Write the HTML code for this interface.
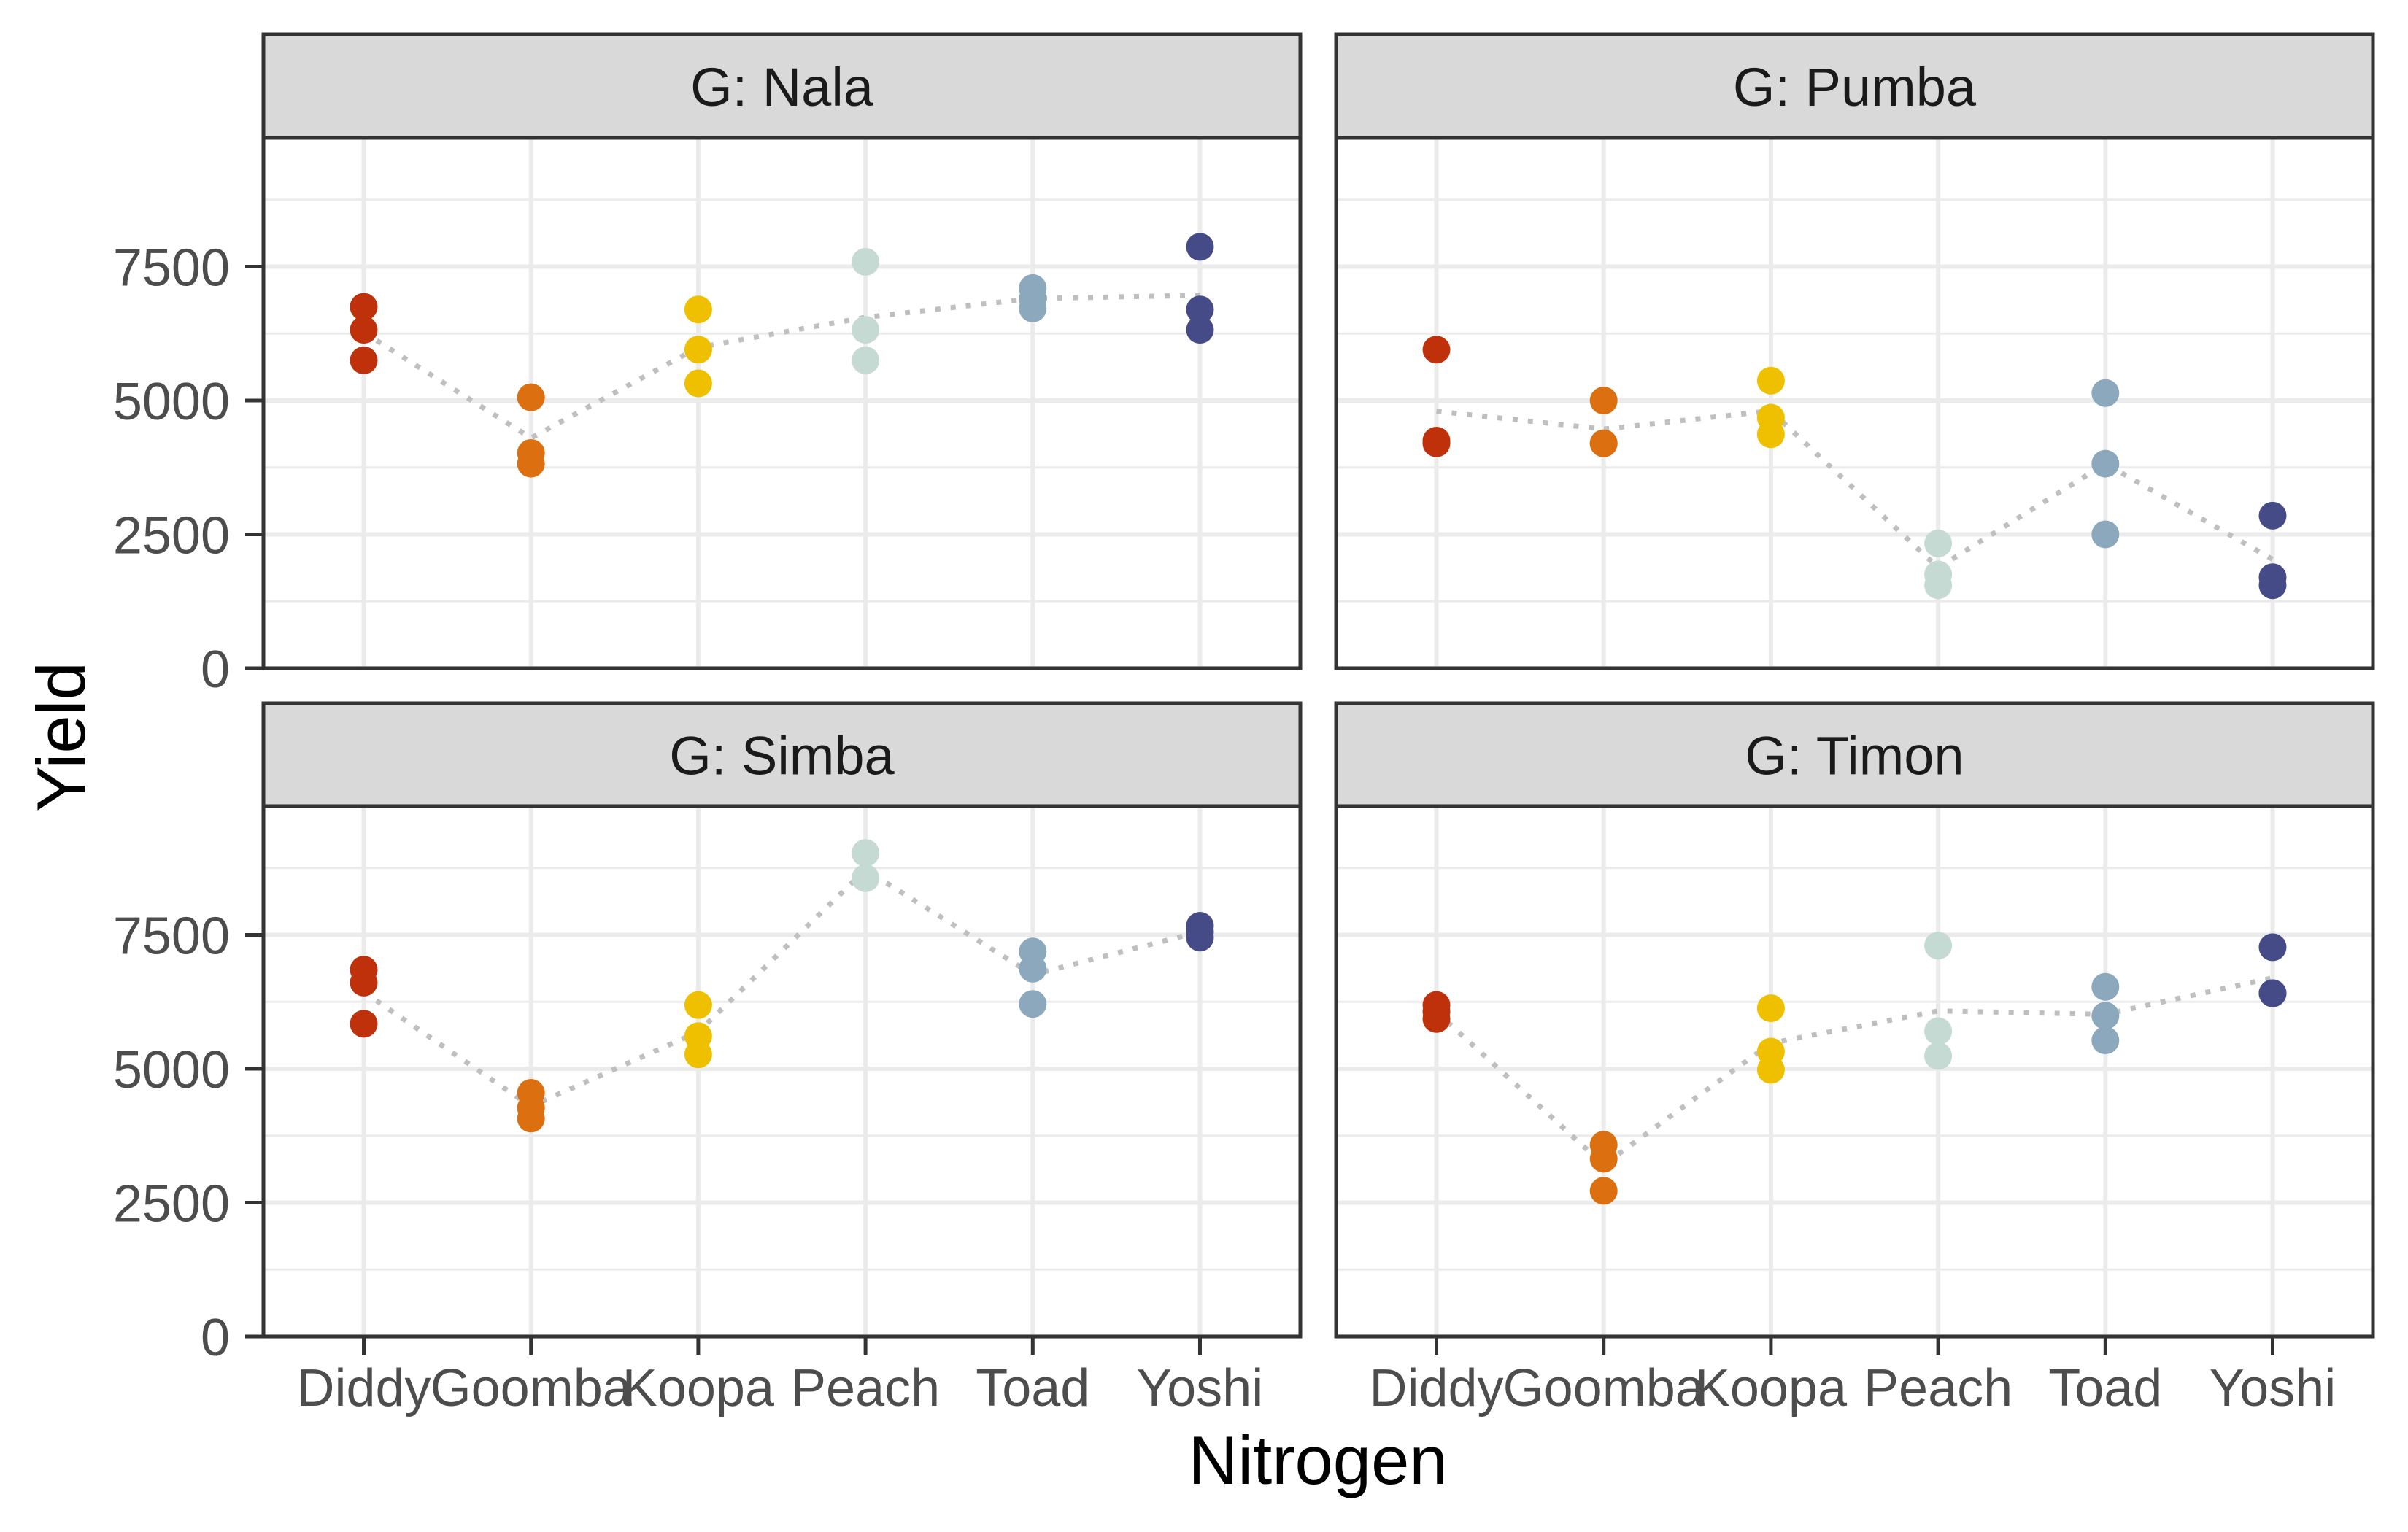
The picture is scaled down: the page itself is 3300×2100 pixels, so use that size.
<!DOCTYPE html>
<html><head><meta charset="utf-8"><style>
html,body{margin:0;padding:0;background:#fff;}
svg{display:block;font-family:"Liberation Sans",sans-serif;}
</style></head><body>
<svg id="chart" width="3300" height="2100" viewBox="0 0 3300 2100" xmlns="http://www.w3.org/2000/svg"></svg>
<script>
const categories = ["Diddy","Goomba","Koopa","Peach","Toad","Yoshi"];
const panelNames = ["G: Nala","G: Pumba","G: Simba","G: Timon"];
const nalaValues = [[6750,6320,5750],[5060,4020,3820],[6700,5950,5320],[7590,6320,5750],[7100,6900,6720],[7870,6700,6320]];
const pumbaValues = [[5950,4250,4200],[5000,4200,4200],[5370,4680,4370],[2330,1750,1550],[5140,3820,2500],[2850,1700,1550]];
const simbaValues = [[6850,6610,5840],[4550,4270,4070],[6190,5610,5270],[9030,8560,8560],[7190,6870,6210],[7670,7560,7450]];
const timonValues = [[6190,6070,5930],[3580,3320,2720],[6130,5320,4980],[7300,5700,5240],[6530,5990,5530],[7270,6410,6410]];
const yTicks = [0,2500,5000,7500];
const yMinor = [1250,3750,6250,8750];
const colors = ["#bf310a","#dc7010","#efc000","#c5dad2","#8ca8bc","#454b87"];

const NS="http://www.w3.org/2000/svg";
const svg=document.getElementById('chart');
function mk(tag,attrs,parent){const e=document.createElementNS(NS,tag);for(const k in attrs)e.setAttribute(k,attrs[k]);(parent||svg).appendChild(e);return e;}
const panels=[
 {x0:361,x1:1782,st:47,sb:189,pb:916,vals:nalaValues,name:'nala'},
 {x0:1831,x1:3252,st:47,sb:189,pb:916,vals:pumbaValues,name:'pumba'},
 {x0:361,x1:1782,st:964,sb:1105,pb:1832,vals:simbaValues,name:'simba'},
 {x0:1831,x1:3252,st:964,sb:1105,pb:1832,vals:timonValues,name:'timon'}];
const YMAX=9905;
panels.forEach((p,pi)=>{
  const g=mk('g',{});
  
  
  const xs=i=>p.x0+(p.x1-p.x0)*(0.6+i)/6.2;
  const ys=v=>p.pb-(p.pb-p.sb)*v/YMAX;
  mk('rect',{x:p.x0,y:p.sb,width:p.x1-p.x0,height:p.pb-p.sb,fill:'#fff'},g);
  yMinor.forEach(v=>{const l=mk('line',{x1:p.x0,x2:p.x1,y1:ys(v),y2:ys(v),stroke:'#ebebeb','stroke-width':3},g);});
  yTicks.forEach(v=>{const l=mk('line',{x1:p.x0,x2:p.x1,y1:ys(v),y2:ys(v),stroke:'#ebebeb','stroke-width':6},g);});
  categories.forEach((c,i)=>{const l=mk('line',{x1:xs(i),x2:xs(i),y1:p.sb,y2:p.pb,stroke:'#ebebeb','stroke-width':6},g);});
  const pts=p.vals.map((a,i)=>xs(i)+','+ys(a.reduce((s,v)=>s+v,0)/a.length)).join(' ');
  const ml=mk('polyline',{points:pts,fill:'none',stroke:'#bfbfbf','stroke-width':7,'stroke-dasharray':'7 14'},g);
  
  
  p.vals.forEach((a,i)=>a.forEach(v=>{
    const c=mk('circle',{cx:xs(i),cy:ys(v),r:19,fill:colors[i]},g);
    
    
  }));
  const br=mk('rect',{x:p.x0,y:p.sb,width:p.x1-p.x0,height:p.pb-p.sb,fill:'none',stroke:'#333','stroke-width':5},g);
  
  
  const sr=mk('rect',{x:p.x0,y:p.st,width:p.x1-p.x0,height:p.sb-p.st,fill:'#d9d9d9',stroke:'#333','stroke-width':5},g);
  
  
  const st=mk('text',{x:(p.x0+p.x1)/2,y:(p.st+p.sb)/2+27,'text-anchor':'middle','font-size':74,fill:'#1a1a1a'},g);
  st.textContent=panelNames[pi];
  
  
  if(pi%2===0){
    yTicks.forEach(v=>{
      mk('line',{x1:p.x0-25,x2:p.x0,y1:ys(v),y2:ys(v),stroke:'#333','stroke-width':5},g);
      const t=mk('text',{x:315,y:ys(v)+26,'text-anchor':'end','font-size':72,fill:'#4d4d4d'},g);
      t.textContent=v;
      
      
    });
  }
  if(pi>=2){
    categories.forEach((c,i)=>{
      mk('line',{x1:xs(i),x2:xs(i),y1:p.pb,y2:p.pb+25,stroke:'#333','stroke-width':5},g);
      const t=mk('text',{x:xs(i),y:1927,'text-anchor':'middle','font-size':72,fill:'#4d4d4d'},g);
      t.textContent=c;
      
      
    });
  }
});
const xt=mk('text',{x:1806,y:2034,'text-anchor':'middle','font-size':94,fill:'#000'});
xt.textContent='Nitrogen';


const yt=mk('text',{x:0,y:0,'text-anchor':'middle','font-size':94,fill:'#000',transform:'translate(116,1010) rotate(-90)'});
yt.textContent='Yield';


</script>
</body></html>
